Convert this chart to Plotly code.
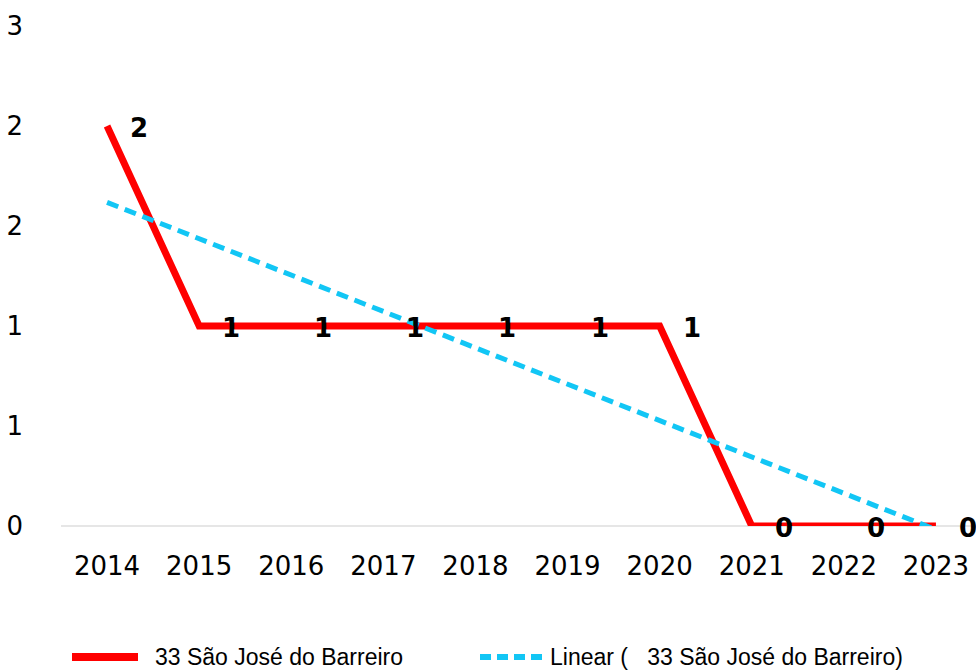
import numpy as np
import plotly.graph_objects as go

years = ["2014", "2015", "2016", "2017", "2018", "2019", "2020", "2021", "2022", "2023"]
values = [2, 1, 1, 1, 1, 1, 1, 0, 0, 0]
series_name = "33 São José do Barreiro"
trend_name = "Linear (   33 São José do Barreiro)"
y_tickvals = [0, 0.5, 1, 1.5, 2, 2.5]
y_ticktext = ["0", "1", "1", "2", "2", "3"]

xi = np.arange(len(years))
slope, intercept = np.polyfit(xi, values, 1)
trend = list(slope * xi + intercept)

W, H = 976, 672
L, R, T, B = 61, 0, 26, 146
pw, ph = W - L - R, H - T - B

fig = go.Figure()
fig.add_trace(go.Scatter(x=years, y=values, mode="lines",
                         line=dict(color="#ff0000", width=7), name=series_name,
                         showlegend=False, cliponaxis=False))
fig.add_trace(go.Scatter(x=years, y=trend, mode="lines",
                         line=dict(color="#12c6f5", width=5, dash="12px,7px"),
                         name=trend_name, showlegend=False, cliponaxis=False))

for i, v in enumerate(values):
    fig.add_annotation(x=i, y=v, text=str(v), showarrow=False, xshift=32, yshift=-2,
                       font=dict(family="DejaVu Sans", size=26, color="#000000", weight="bold"),
                       xanchor="center", yanchor="middle")

# custom legend
def px2paper(px, py):
    return (px - L) / pw, (H - B - py) / ph

ly = 657
x0, y0 = px2paper(72, ly)
x1, _ = px2paper(138, ly)
fig.add_shape(type="line", xref="paper", yref="paper", x0=x0, x1=x1, y0=y0, y1=y0,
              line=dict(color="#ff0000", width=8))
tx, ty = px2paper(153, ly)
fig.add_annotation(xref="paper", yref="paper", x=tx, y=ty, text=series_name, showarrow=False,
                   xanchor="left", yanchor="middle",
                   font=dict(family="Liberation Sans", size=23, color="#000000"))
x0, y0 = px2paper(480, ly)
x1, _ = px2paper(545, ly)
fig.add_shape(type="line", xref="paper", yref="paper", x0=x0, x1=x1, y0=y0, y1=y0,
              line=dict(color="#12c6f5", width=6, dash="11px,6px"))
tx, ty = px2paper(548, ly)
fig.add_annotation(xref="paper", yref="paper", x=tx, y=ty, text=trend_name, showarrow=False,
                   xanchor="left", yanchor="middle",
                   font=dict(family="Liberation Sans", size=23, color="#000000"))

fig.update_layout(
    width=W, height=H,
    margin=dict(l=L, r=R, t=T, b=B, pad=0),
    paper_bgcolor="white", plot_bgcolor="white",
    showlegend=False,
    font=dict(family="DejaVu Sans", size=24, color="#000000"),
)
fig.update_xaxes(type="category", range=[-0.5, 9.435], showgrid=False, zeroline=False,
                 showline=False, ticks="", ticklabelstandoff=22,
                 tickfont=dict(family="DejaVu Sans", size=26, color="#000000"))
fig.update_yaxes(range=[0, 2.5], tickvals=y_tickvals, ticktext=y_ticktext, showgrid=False,
                 zeroline=True, zerolinecolor="#e6e6e6", zerolinewidth=1.5, showline=False,
                 ticks="", ticklabelstandoff=37,
                 tickfont=dict(family="DejaVu Sans", size=26, color="#000000"))

fig.write_html("out.html", config={"displayModeBar": False},
               post_script="document.body.style.margin='0px';")
